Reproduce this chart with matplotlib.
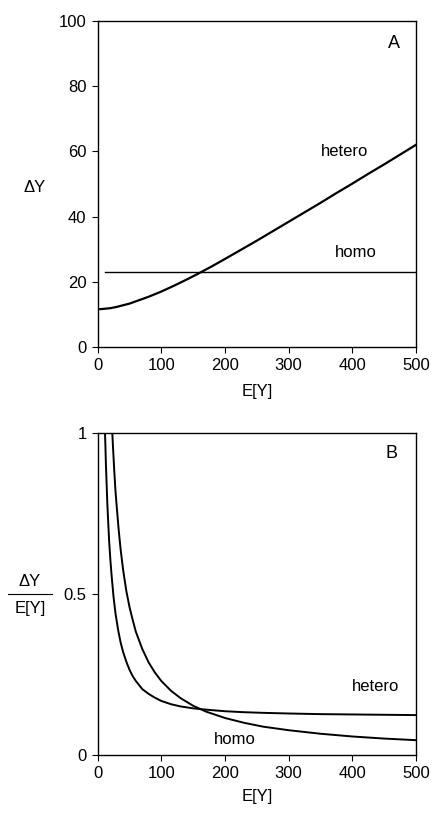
import matplotlib.pyplot as plt
from matplotlib.lines import Line2D

plt.rcParams['font.family'] = ['Liberation Sans', 'DejaVu Sans']
plt.rcParams['font.size'] = 12

# Panel A: delta Y against E[Y]
e_het_a = [4, 10, 20, 30, 40, 50, 60, 70, 80, 90, 100, 120, 140, 160, 180, 200, 225, 250,
           275, 300, 325, 350, 375, 400, 425, 450, 475, 500]
dy_het_a = [11.6, 11.7, 11.9, 12.3, 12.8, 13.3, 14.0, 14.7, 15.4, 16.2, 17.0, 18.8, 20.7, 22.7,
            24.8, 27.0, 29.8, 32.6, 35.5, 38.4, 41.3, 44.2, 47.2, 50.1, 53.1, 56.0, 59.0, 62.0]
e_hom_a = [11, 500]
dy_hom_a = [23.0, 23.0]

# Panel B: delta Y / E[Y] against E[Y]
e_het_b = [11.5, 12, 13, 14, 15, 16, 18, 20, 22, 25, 28, 32, 36, 40, 45, 50, 55, 60, 70, 80,
           90, 100, 115, 130, 150, 170, 200, 230, 260, 300, 350, 400, 450, 500]
r_het_b = [1.0, 0.97, 0.90, 0.845, 0.79, 0.745, 0.665, 0.605, 0.555, 0.49, 0.44, 0.39, 0.35,
           0.32, 0.29, 0.265, 0.245, 0.23, 0.205, 0.19, 0.178, 0.168, 0.158, 0.151, 0.145,
           0.141, 0.136, 0.133, 0.131, 0.129, 0.127, 0.126, 0.125, 0.124]
e_hom_b = [23, 24, 26, 28, 30, 33, 36, 40, 45, 50, 55, 60, 70, 80, 90, 100, 115, 130, 150, 170,
           200, 230, 260, 300, 350, 400, 450, 500]
r_hom_b = [1.0, 0.96, 0.885, 0.82, 0.77, 0.70, 0.64, 0.575, 0.51, 0.46, 0.42, 0.383, 0.33,
           0.288, 0.256, 0.23, 0.2, 0.177, 0.153, 0.135, 0.115, 0.1, 0.088, 0.077, 0.066,
           0.0575, 0.051, 0.046]

fig = plt.figure(figsize=(4.33, 8.16), dpi=100)
axA = fig.add_axes([0.2256, 0.5748, 0.735, 0.3995])
axB = fig.add_axes([0.2256, 0.0748, 0.735, 0.394])

for ax in (axA, axB):
    ax.set_xlim(0, 500)
    ax.set_xticks([0, 100, 200, 300, 400, 500])
    ax.tick_params(direction='out', length=4, width=0.8, labelsize=12, pad=4)
    for s in ax.spines.values():
        s.set_linewidth(1.0)

axA.plot(e_het_a, dy_het_a, color='black', linewidth=1.6)
axA.plot(e_hom_a, dy_hom_a, color='black', linewidth=1.0)
axA.set_ylim(0, 100)
axA.set_yticks([0, 20, 40, 60, 80, 100])
axA.set_xlabel('E[Y]', fontsize=12, labelpad=8)
axA.text(0.932, 0.932, 'A', transform=axA.transAxes, fontsize=13, ha='center', va='center')
axA.text(388, 60, 'hetero', fontsize=12, ha='center', va='center')
axA.text(406, 29, 'homo', fontsize=12, ha='center', va='center')
fig.text(0.081, 1 - 187 / 816, '\u0394Y', fontsize=12, ha='center', va='center')

axB.plot(e_het_b, r_het_b, color='black', linewidth=1.4)
axB.plot(e_hom_b, r_hom_b, color='black', linewidth=1.4)
axB.set_ylim(0, 1)
axB.set_yticks([0, 0.5, 1])
axB.set_yticklabels(['0', '0.5', '1'])
axB.set_xlabel('E[Y]', fontsize=12, labelpad=6)
axB.text(0.924, 0.938, 'B', transform=axB.transAxes, fontsize=13, ha='center', va='center')
axB.text(436, 0.212, 'hetero', fontsize=12, ha='center', va='center')
axB.text(216, 0.049, 'homo', fontsize=12, ha='center', va='center')
fig.text(0.069, 1 - 582 / 816, '\u0394Y', fontsize=12, ha='center', va='center')
fig.text(0.069, 1 - 609 / 816, 'E[Y]', fontsize=12, ha='center', va='center')
fig.add_artist(Line2D([0.019, 0.12], [1 - 594 / 816, 1 - 594 / 816], color='black', linewidth=0.8))

fig.savefig('out.png', dpi=100)
